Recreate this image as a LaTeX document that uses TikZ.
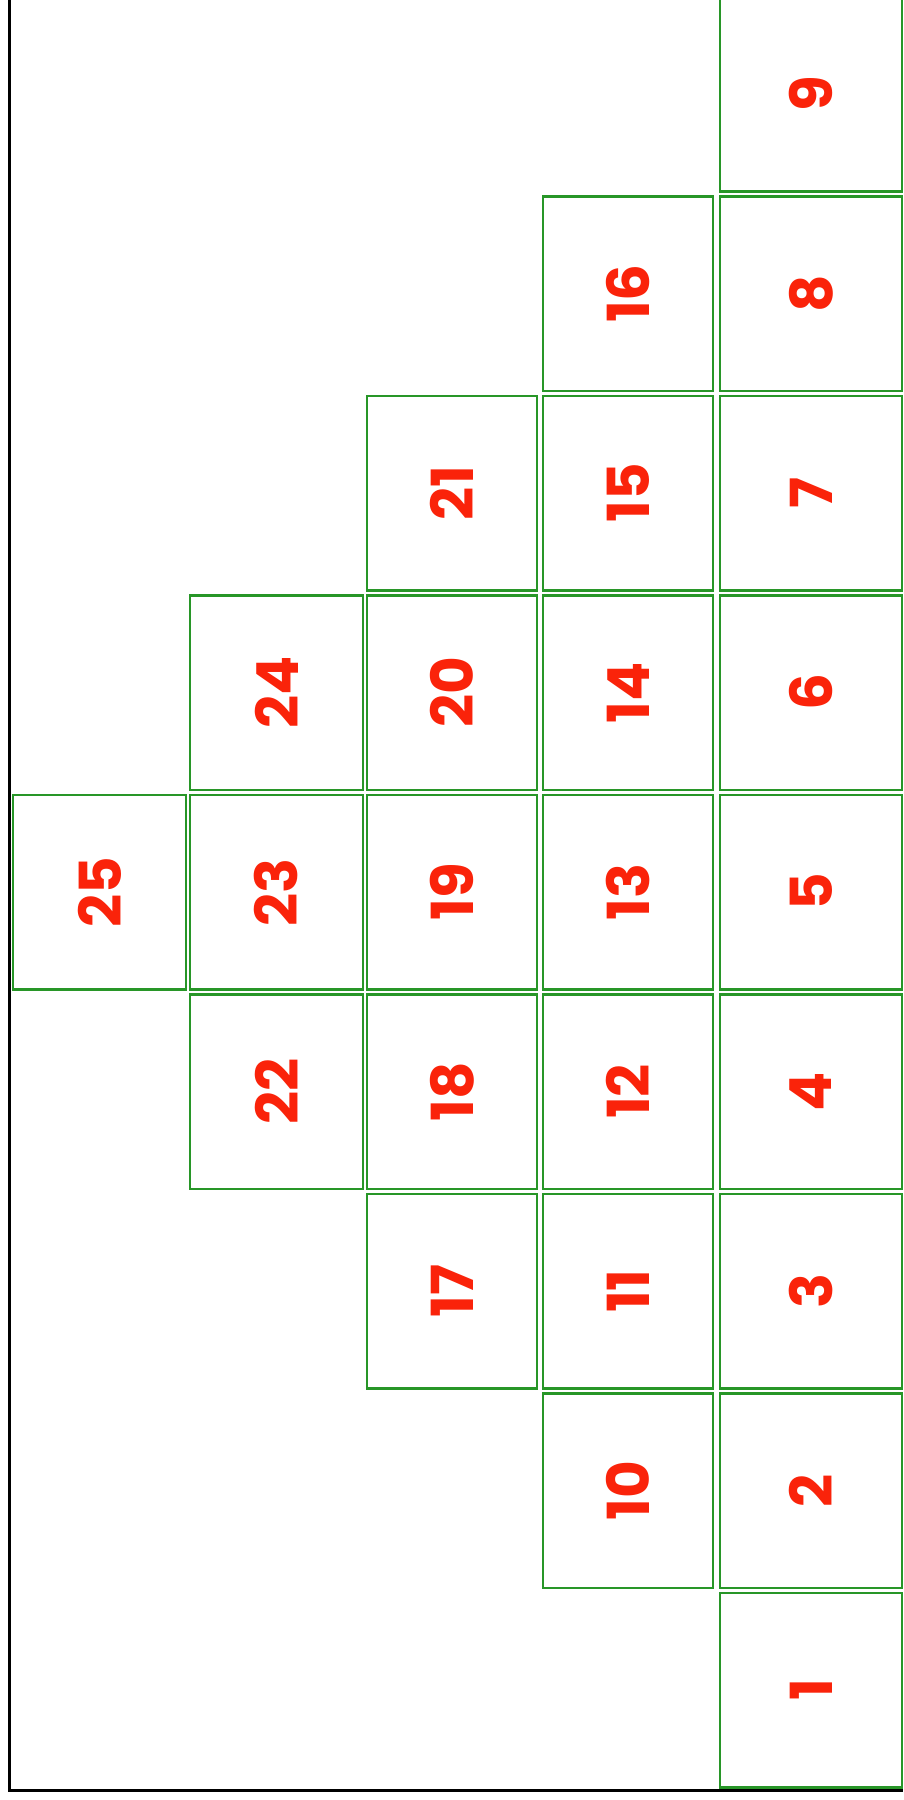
\documentclass[tikz,border=0pt]{standalone}
\usepackage{fontspec}
\setmainfont{Poppins}
\usepackage{graphicx}
\definecolor{boxgreen}{RGB}{40,150,40}
\definecolor{numred}{RGB}{250,35,10}
\begin{document}
\begin{tikzpicture}[x=1pt,y=-1pt,
  cell/.style={draw=boxgreen, line width=2.5pt, inner sep=0pt, minimum height=194.5pt,
    font=\fontsize{58}{60}\selectfont\bfseries, text=numred},
  colA/.style={cell, minimum width=173pt},
  colB/.style={cell, minimum width=173pt},
  colC/.style={cell, minimum width=170pt},
  colD/.style={cell, minimum width=170pt},
  colE/.style={cell, minimum width=182pt},
  frameline/.style={line width=2.8pt, black}]
\useasboundingbox (0,0) rectangle (903,1800);
\fill[white] (0,0) rectangle (903,1800);
% outer frame (left and bottom edges visible)
\coordinate (ftop) at (9.5,0);
\coordinate (fcorner) at (9.5,1790.5);
\coordinate (fright) at (903,1790.5);
\draw[frameline] (ftop) -- (fcorner) -- (fright);
% column centres: A 99.5, B 276.5, C 452, D 628, E 811
% row k centre: 1690 - (k-1)*199.5
\foreach \n/\r in {1/1,2/2,3/3,4/4,5/5,6/6,7/7,8/8,9/9}
  \node[colE] (b\n) at (811,{1690-(\r-1)*199.5}) {\rotatebox{90}{\n}};
\foreach \n/\r in {10/2,11/3,12/4,13/5,14/6,15/7,16/8}
  \node[colD] (b\n) at (628,{1690-(\r-1)*199.5}) {\rotatebox{90}{\n}};
\foreach \n/\r in {17/3,18/4,19/5,20/6,21/7}
  \node[colC] (b\n) at (452,{1690-(\r-1)*199.5}) {\rotatebox{90}{\n}};
\foreach \n/\r in {22/4,23/5,24/6}
  \node[colB] (b\n) at (276.5,{1690-(\r-1)*199.5}) {\rotatebox{90}{\n}};
\node[colA] (b25) at (99.5,{1690-4*199.5}) {\rotatebox{90}{25}};
\end{tikzpicture}
\end{document}
